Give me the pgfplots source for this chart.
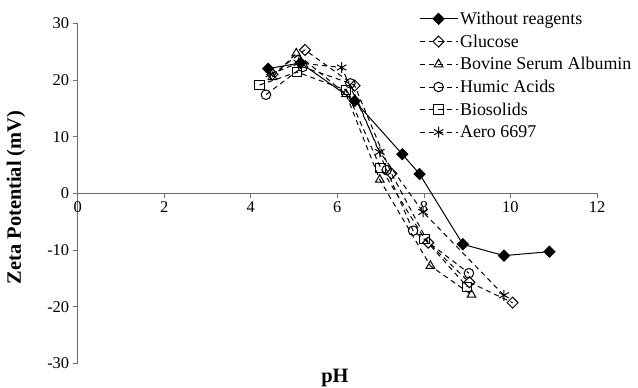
\documentclass[border=0pt]{standalone}
\usepackage{fontspec}
\setmainfont{Liberation Serif}
\usepackage{pgfplots}
\pgfplotsset{compat=1.18}
\begin{document}
\begin{tikzpicture}
\path[use as bounding box] (0,0) rectangle (638bp,388bp);
\begin{axis}[
  at={(77.7bp,24.7bp)}, anchor=south west,
  scale only axis, width=519.3bp, height=340bp,
  xmin=0, xmax=12, ymin=-30, ymax=30,
  axis lines=middle,
  axis line style={-, draw=gray!85!black, line width=0.8bp},
  xtick={0,2,...,12}, ytick={-30,-20,...,30},
  hide obscured x ticks=false, hide obscured y ticks=false,
  tick align=outside, major tick length=5bp,
  tick style={draw=gray!85!black, line width=0.8bp},
  tick label style={font=\fontsize{16.5}{19}\selectfont},
  /pgf/number format/assume math mode=true,
  clip=false,
  every axis plot/.append style={line width=1.0bp, black},
  legend style={at={(axis description cs:0.657,1.04)}, anchor=north west,
    draw=none, fill=none, font=\fontsize{18}{20}\selectfont,
    row sep=4.8bp, inner sep=0pt},
  legend cell align=left,
  legend image code/.code={\draw[mark repeat=2,mark phase=2] plot coordinates {(0bp,0bp)(19bp,0bp)(38bp,0bp)};},
]
\addplot[solid, mark=square*, mark size=3.9pt, mark options={rotate=45, fill=black}] coordinates {
(4.4,22.0) (5.15,23.0) (6.4,16.3) (7.5,6.9) (7.9,3.4) (8.9,-9.0) (9.85,-11.0) (10.9,-10.3)};
\addlegendentry{Without reagents}
\addplot[dash pattern=on 5bp off 4bp, mark=square, mark size=3.9pt, mark options={solid, rotate=45, fill=white}] coordinates {
(4.5,21.0) (5.25,25.3) (6.4,19.0) (7.25,3.5) (8.1,-8.7) (9.05,-15.7) (10.05,-19.3)};
\addlegendentry{Glucose}
\addplot[dash pattern=on 5bp off 4bp, mark=triangle, mark size=5pt, mark options={solid, fill=white}] coordinates {
(4.5,20.5) (5.05,24.7) (6.2,17.5) (6.98,2.4) (8.15,-12.8) (9.1,-17.9)};
\addlegendentry{Bovine Serum Albumin}
\addplot[dash pattern=on 5bp off 4bp, mark=o, mark size=4.8pt, mark options={solid, fill=white}] coordinates {
(4.35,17.4) (5.2,22.3) (6.3,19.4) (7.14,4.1) (7.75,-6.6) (9.04,-14.1)};
\addlegendentry{Humic Acids}
\addplot[dash pattern=on 5bp off 4bp, mark=square, mark size=4.8pt, mark options={solid, fill=white}] coordinates {
(4.2,19.1) (5.07,21.4) (6.2,18.2) (7.0,4.5) (8.02,-8.1) (9.0,-16.5)};
\addlegendentry{Biosolids}
\addplot[dash pattern=on 5bp off 4bp, mark=asterisk, mark size=5.5pt, mark options={solid}] coordinates {
(4.45,21.0) (5.1,23.0) (6.1,22.2) (6.98,7.3) (7.98,-3.3) (9.85,-18.0)};
\addlegendentry{Aero 6697}
\end{axis}
\node[font=\fontsize{20.5}{24}\selectfont\bfseries] at (335bp,10bp) {pH};
\node[rotate=90, font=\fontsize{20.5}{24}\selectfont\bfseries] at (16bp,190.5bp) {Zeta Potential (mV)};
\end{tikzpicture}
\end{document}
